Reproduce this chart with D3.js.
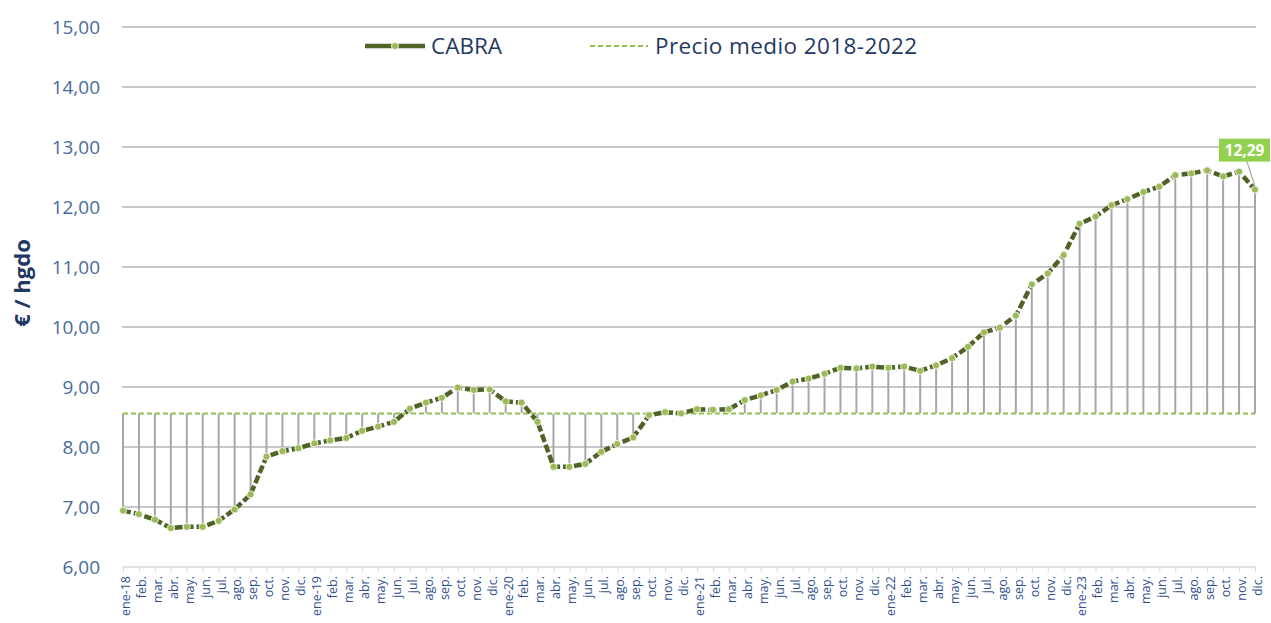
<!DOCTYPE html>
<html>
<head>
<meta charset="utf-8">
<script src="https://cdn.jsdelivr.net/npm/d3@7/dist/d3.min.js"></script>
<style>
  html, body { margin: 0; padding: 0; background: #ffffff; }
  svg { display: block; }
</style>
</head>
<body>
<svg id="chart" width="1271" height="623"></svg>
<script>
// Monthly goat price (€ / hgdo), Jan 2018 – Dec 2023
const months = [
  "ene-18","feb.","mar.","abr.","may.","jun.","jul.","ago.","sep.","oct.","nov.","dic.",
  "ene-19","feb.","mar.","abr.","may.","jun.","jul.","ago.","sep.","oct.","nov.","dic.",
  "ene-20","feb.","mar.","abr.","may.","jun.","jul.","ago.","sep.","oct.","nov.","dic.",
  "ene-21","feb.","mar.","abr.","may.","jun.","jul.","ago.","sep.","oct.","nov.","dic.",
  "ene-22","feb.","mar.","abr.","may.","jun.","jul.","ago.","sep.","oct.","nov.","dic.",
  "ene-23","feb.","mar.","abr.","may.","jun.","jul.","ago.","sep.","oct.","nov.","dic."
];

const cabra = [
  6.94, 6.88, 6.79, 6.65, 6.67, 6.67, 6.77, 6.96, 7.21, 7.84, 7.93, 7.98,
  8.06, 8.11, 8.15, 8.27, 8.34, 8.42, 8.64, 8.74, 8.82, 8.99, 8.95, 8.96,
  8.76, 8.74, 8.42, 7.67, 7.67, 7.72, 7.92, 8.05, 8.16, 8.53, 8.58, 8.56,
  8.63, 8.62, 8.63, 8.78, 8.86, 8.95, 9.09, 9.14, 9.22, 9.32, 9.31, 9.34,
  9.32, 9.34, 9.27, 9.36, 9.48, 9.67, 9.91, 9.99, 10.19, 10.71, 10.89, 11.20,
  11.72, 11.84, 12.03, 12.13, 12.25, 12.34, 12.53, 12.56, 12.61, 12.51, 12.59, 12.29
];

// Average price 2018-2022
const precioMedio = 8.56;

const yTicks = [6, 7, 8, 9, 10, 11, 12, 13, 14, 15];

const seriesName = "CABRA";
const avgName = "Precio medio 2018-2022";
const yTitle = "€ / hgdo";

const COLORS = {
  line: "#4f6228",
  marker: "#9bbb59",
  avg: "#92c04f",
  drop: "#a6a6a6",
  grid: "#b4b4b4",
  axis: "#d9d9d9",
  yLabel: "#4a6a9c",
  xLabel: "#2f4f8f",
  title: "#1f3864",
  badge: "#92d050"
};

const svg = d3.select("#chart");
const fmt = v => d3.format(".2f")(v).replace(".", ",");

const x = d3.scalePoint()
  .domain(d3.range(months.length))
  .range([123, 1255]);

const y = d3.scaleLinear()
  .domain([6, 15])
  .range([567, 27]);

// Horizontal gridlines
svg.append("g")
  .selectAll("line")
  .data(yTicks.filter(t => t > 6))
  .join("line")
  .attr("x1", 122).attr("x2", 1256)
  .attr("y1", d => y(d)).attr("y2", d => y(d))
  .attr("stroke", COLORS.grid)
  .attr("stroke-width", 1.5);

// Y axis labels
const yAxis = svg.append("g")
  .attr("transform", "translate(122,0)")
  .call(d3.axisLeft(y).tickValues(yTicks).tickFormat(fmt).tickSize(0).tickPadding(22));
yAxis.select(".domain").remove();
yAxis.selectAll("text")
  .attr("fill", COLORS.yLabel)
  .attr("font-family", "'Open Sans', sans-serif")
  .attr("font-size", 19);

// X axis
const xAxis = svg.append("g")
  .attr("transform", `translate(0,${y(6)})`)
  .call(d3.axisBottom(x).tickFormat(i => months[i]).tickSize(5).tickPadding(3));
xAxis.select(".domain")
  .attr("stroke", COLORS.axis)
  .attr("stroke-width", 1.5)
  .attr("d", `M122,0H1256`);
xAxis.selectAll(".tick line").attr("stroke", COLORS.axis).attr("stroke-width", 1);
xAxis.selectAll("text")
  .attr("fill", COLORS.xLabel)
  .attr("font-family", "'Open Sans', sans-serif")
  .attr("font-size", 12.5)
  .attr("text-anchor", "end")
  .attr("dy", "0.35em")
  .attr("transform", "rotate(-90) translate(-9,2)")
  .attr("x", 0).attr("y", 0);

// Drop lines between series and average
svg.append("g")
  .selectAll("line")
  .data(cabra)
  .join("line")
  .attr("x1", (d, i) => x(i)).attr("x2", (d, i) => x(i))
  .attr("y1", d => y(d)).attr("y2", y(precioMedio))
  .attr("stroke", COLORS.drop)
  .attr("stroke-width", 2);

// Average reference line
svg.append("line")
  .attr("x1", x(0)).attr("x2", x(months.length - 1))
  .attr("y1", y(precioMedio)).attr("y2", y(precioMedio))
  .attr("stroke", COLORS.avg)
  .attr("stroke-width", 2)
  .attr("stroke-dasharray", "5,3");

// Price line
const line = d3.line().x((d, i) => x(i)).y(d => y(d));
svg.append("path")
  .datum(cabra)
  .attr("d", line)
  .attr("fill", "none")
  .attr("stroke", COLORS.line)
  .attr("stroke-width", 4.5)
  .attr("stroke-dasharray", "8,3");

// Markers
svg.append("g")
  .selectAll("circle")
  .data(cabra)
  .join("circle")
  .attr("cx", (d, i) => x(i))
  .attr("cy", d => y(d))
  .attr("r", 3.6)
  .attr("fill", COLORS.marker)
  .attr("stroke", "#ffffff")
  .attr("stroke-width", 0.8);

// Value label on the last point
const lastI = cabra.length - 1;
const lx = x(lastI), ly = y(cabra[lastI]);
const bw = 51, bh = 23;
const bx = lx - 36, by = ly - 51;
svg.append("line")
  .attr("x1", lx - 8).attr("y1", by + bh)
  .attr("x2", lx).attr("y2", ly - 3)
  .attr("stroke", COLORS.drop)
  .attr("stroke-width", 1.2);
svg.append("rect")
  .attr("x", bx).attr("y", by)
  .attr("width", bw).attr("height", bh)
  .attr("fill", COLORS.badge);
svg.append("text")
  .attr("x", bx + bw / 2).attr("y", by + bh / 2)
  .attr("dy", "0.36em")
  .attr("text-anchor", "middle")
  .attr("fill", "#ffffff")
  .attr("font-family", "'Open Sans', sans-serif")
  .attr("font-weight", "bold")
  .attr("font-size", 15.5)
  .text(fmt(cabra[lastI]));

// Y axis title
svg.append("text")
  .attr("transform", `translate(22,283) rotate(-90)`)
  .attr("text-anchor", "middle")
  .attr("dy", "0.35em")
  .attr("fill", COLORS.title)
  .attr("font-family", "'Open Sans', sans-serif")
  .attr("font-weight", "bold")
  .attr("font-size", 22)
  .text(yTitle);

// Legend
const legend = svg.append("g").attr("font-family", "'Open Sans', sans-serif");
legend.append("line")
  .attr("x1", 365).attr("x2", 425).attr("y1", 46).attr("y2", 46)
  .attr("stroke", COLORS.line).attr("stroke-width", 4.5);
legend.append("circle")
  .attr("cx", 395).attr("cy", 46).attr("r", 3.6)
  .attr("fill", COLORS.marker).attr("stroke", "#ffffff").attr("stroke-width", 0.8);
legend.append("text")
  .attr("x", 431).attr("y", 46).attr("dy", "0.35em")
  .attr("fill", COLORS.title).attr("font-size", 22.5)
  .text(seriesName);
legend.append("line")
  .attr("x1", 590).attr("x2", 648).attr("y1", 46).attr("y2", 46)
  .attr("stroke", COLORS.avg).attr("stroke-width", 2)
  .attr("stroke-dasharray", "5,3");
legend.append("text")
  .attr("x", 655).attr("y", 46).attr("dy", "0.35em")
  .attr("fill", COLORS.title).attr("font-size", 22.5)
  .attr("letter-spacing", 0.4)
  .text(avgName);
</script>
</body>
</html>
